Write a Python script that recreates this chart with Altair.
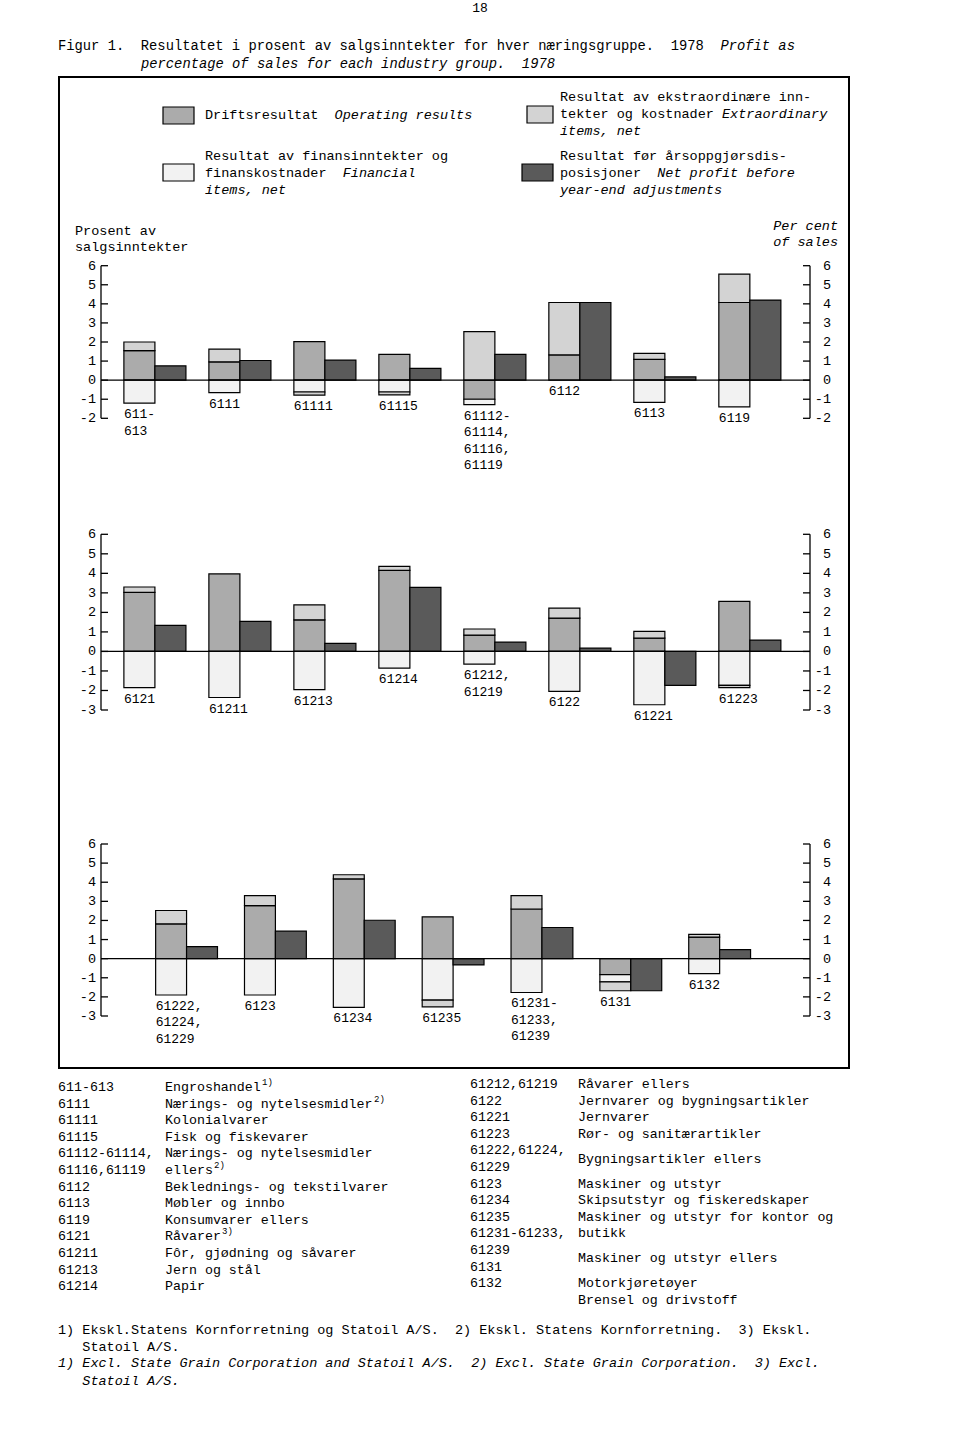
import altair as alt
import pandas as pd

FONT = "Liberation Mono"

# ---------------- data ----------------
SEGS = ["oper", "fin", "extra", "net"]
FILLS = ["#ababab", "#f2f2f2", "#d3d3d3", "#5a5a5a"]

P1_GROUPS = ["611-613", "6111", "61111", "61115", "61112-61114,61116,61119", "6112", "6113", "6119"]
P1_LABELS = ["611-\n613", "6111", "61111", "61115", "61112-\n61114,\n61116,\n61119", "6112", "6113", "6119"]
P1_OPER = [1.55, 0.96, 2.02, 1.35, -1.00, 1.32, 1.09, 4.07]
P1_FIN = [-1.20, -0.65, -0.62, -0.62, -0.28, 0.00, -1.17, -1.40]
P1_EXTRA = [0.45, 0.67, -0.17, -0.15, 2.54, 2.75, 0.31, 1.49]
P1_NET = [0.75, 1.03, 1.05, 0.62, 1.35, 4.07, 0.17, 4.20]

P2_GROUPS = ["6121", "61211", "61213", "61214", "61212,61219", "6122", "61221", "61223"]
P2_LABELS = ["6121", "61211", "61213", "61214", "61212,\n61219", "6122", "61221", "61223"]
P2_OPER = [3.03, 3.97, 1.62, 4.15, 0.84, 1.71, 0.68, 2.56]
P2_FIN = [-1.85, -2.36, -1.96, -0.85, -0.65, -2.05, -2.73, -1.74]
P2_EXTRA = [0.27, 0.00, 0.77, 0.21, 0.31, 0.51, 0.35, -0.11]
P2_NET = [1.33, 1.54, 0.41, 3.28, 0.48, 0.17, -1.74, 0.58]

P3_GROUPS = ["61222,61224,61229", "6123", "61234", "61235", "61231-61233,61239", "6131", "6132"]
P3_LABELS = ["61222,\n61224,\n61229", "6123", "61234", "61235", "61231-\n61233,\n61239", "6131", "6132"]
P3_OPER = [1.82, 2.78, 4.17, 2.19, 2.60, -0.83, 1.13]
P3_FIN = [-1.90, -1.90, -2.55, -2.17, -1.77, -0.38, -0.78]
P3_EXTRA = [0.70, 0.52, 0.22, -0.35, 0.70, -0.47, 0.14]
P3_NET = [0.63, 1.44, 2.01, -0.33, 1.63, -1.68, 0.47]

TICKS_A = [6, 5, 4, 3, 2, 1, 0, -1, -2]
TICKS_B = [6, 5, 4, 3, 2, 1, 0, -1, -2, -3]

PAGE_NO = "18"
CAPTION_1 = "Figur 1.  Resultatet i prosent av salgsinntekter for hver næringsgruppe.  1978  "
CAPTION_1_EN = "Profit as"
CAPTION_2_EN = "percentage of sales for each industry group.  1978"

LEG_OPER = ("Driftsresultat  ", "Operating results")
LEG_FIN = ["Resultat av finansinntekter og", "finanskostnader  ", "Financial", "items, net"]
LEG_EXTRA = ["Resultat av ekstraordinære inn-", "tekter og kostnader ", "Extraordinary", "items, net"]
LEG_NET = ["Resultat før årsoppgjørsdis-", "posisjoner  ", "Net profit before", "year-end adjustments"]

YTITLE_NO = "Prosent av\nsalgsinntekter"
YTITLE_EN = "Per cent\nof sales"

FOOT_L_CODES = ["611-613", "6111", "61111", "61115", "61112-61114,", "61116,61119", "6112", "6113",
                "6119", "6121", "61211", "61213", "61214"]
FOOT_L_DESC = ["Engroshandel", "Nærings- og nytelsesmidler", "Kolonialvarer", "Fisk og fiskevarer",
               "Nærings- og nytelsesmidler", "ellers", "Beklednings- og tekstilvarer", "Møbler og innbo",
               "Konsumvarer ellers", "Råvarer", "Fôr, gjødning og såvarer", "Jern og stål", "Papir"]
FOOT_L_SUP = {0: "1)", 1: "2)", 5: "2)", 9: "3)"}
FOOT_R_CODES = ["61212,61219", "6122", "61221", "61223", "61222,61224,", "61229", "6123", "61234",
                "61235", " ", "61231-61233,", "61239", "6131", "6132"]
FOOT_R_DESC_A = ["Råvarer ellers", "Jernvarer og bygningsartikler", "Jernvarer", "Rør- og sanitærartikler"]
FOOT_R_DESC_B = "Bygningsartikler ellers"
FOOT_R_DESC_C = ["Maskiner og utstyr", "Skipsutstyr og fiskeredskaper", "Maskiner og utstyr for kontor og", "butikk"]
FOOT_R_DESC_D = "Maskiner og utstyr ellers"
FOOT_R_DESC_E = ["Motorkjøretøyer", "Brensel og drivstoff"]

NOTE_NO_1 = "1) Ekskl.Statens Kornforretning og Statoil A/S.  2) Ekskl. Statens Kornforretning.  3) Ekskl."
NOTE_NO_2 = "Statoil A/S."
NOTE_EN_1 = "1) Excl. State Grain Corporation and Statoil A/S.  2) Excl. State Grain Corporation.  3) Excl."
NOTE_EN_2 = "Statoil A/S."

# ---------------- helpers ----------------
ONE = pd.DataFrame({"k": [0]})
NB = "\u00a0"


def txt(s, x, y, size=13.5, italic=False, align="left", baseline="middle", lh=16.5):
    kw = dict(font=FONT, fontSize=size, align=align, baseline=baseline, color="black")
    if italic:
        kw["fontStyle"] = "italic"
    if "\n" in s:
        kw["lineBreak"] = "\n"
        kw["lineHeight"] = lh
    s = s.replace(" ", NB)
    return alt.Chart(pd.DataFrame({"t": [s]})).mark_text(**kw).encode(
        text="t:N", x=alt.value(x), y=alt.value(y))


def box(x, x2, y, y2, fill, sw=1.2):
    return alt.Chart(ONE).mark_rect(fill=fill, stroke="black", strokeWidth=sw).encode(
        x=alt.value(x), x2=alt.value(x2), y=alt.value(y), y2=alt.value(y2))


def panel(groups, labels, oper, fin, extra, net, ticks, yrange, xpad):
    rows, lab = [], []
    for g, l, o, f, e, n in zip(groups, labels, oper, fin, extra, net):
        pos = neg = 0.0
        for seg, v in (("oper", o), ("fin", f), ("extra", e)):
            if v == 0:
                continue
            if v > 0:
                rows.append(dict(g=g, sub="stack", seg=seg, y0=pos, y1=pos + v))
                pos += v
            else:
                rows.append(dict(g=g, sub="stack", seg=seg, y0=neg, y1=neg + v))
                neg += v
        rows.append(dict(g=g, sub="net", seg="net", y0=0.0, y1=n))
        lab.append(dict(g=g, label=l, bottom=min(0.0, neg, n)))
    df = pd.DataFrame(rows)
    ldf = pd.DataFrame(lab)
    ymin, ymax = min(ticks), max(ticks)
    pi, po, al = xpad
    xs = alt.Scale(domain=groups, range=[101, 810], paddingInner=pi, paddingOuter=po, align=al)
    ys = alt.Scale(domain=[ymin, ymax], range=yrange, nice=False, zero=False)

    bars = alt.Chart(df).mark_bar(stroke="black", strokeWidth=1.2).encode(
        x=alt.X("g:N", scale=xs, axis=None, sort=groups),
        xOffset=alt.XOffset("sub:N", scale=alt.Scale(domain=["stack", "net"], paddingInner=0, paddingOuter=0),
                            sort=["stack", "net"]),
        y=alt.Y("y1:Q", scale=ys, axis=None),
        y2="y0:Q",
        color=alt.Color("seg:N", scale=alt.Scale(domain=SEGS, range=FILLS), legend=None),
    )
    tdf = pd.DataFrame({"v": ticks, "lab": [str(t) for t in ticks]})
    zero = alt.Chart(pd.DataFrame({"v": [0]})).mark_rule(color="black", strokeWidth=1.2).encode(
        x=alt.value(101), x2=alt.value(810), y=alt.Y("v:Q", scale=ys, axis=None))
    ext = pd.DataFrame({"a": [ymin], "b": [ymax]})
    laxis = alt.Chart(ext).mark_rule(color="black", strokeWidth=1.3).encode(
        x=alt.value(101), y=alt.Y("a:Q", scale=ys, axis=None), y2="b:Q")
    raxis = alt.Chart(ext).mark_rule(color="black", strokeWidth=1.3).encode(
        x=alt.value(810), y=alt.Y("a:Q", scale=ys, axis=None), y2="b:Q")
    lticks = alt.Chart(tdf).mark_rule(color="black", strokeWidth=1.3).encode(
        x=alt.value(101), x2=alt.value(108), y=alt.Y("v:Q", scale=ys, axis=None))
    rticks = alt.Chart(tdf).mark_rule(color="black", strokeWidth=1.3).encode(
        x=alt.value(803), x2=alt.value(810), y=alt.Y("v:Q", scale=ys, axis=None))
    llabels = alt.Chart(tdf).mark_text(font=FONT, fontSize=13.5, align="right", baseline="middle").encode(
        x=alt.value(96), y=alt.Y("v:Q", scale=ys, axis=None), text="lab:N")
    rlabels = alt.Chart(tdf).mark_text(font=FONT, fontSize=13.5, align="right", baseline="middle").encode(
        x=alt.value(831), y=alt.Y("v:Q", scale=ys, axis=None), text="lab:N")
    cats = alt.Chart(ldf).mark_text(font=FONT, fontSize=13, align="left", baseline="top", dy=5,
                                     lineBreak="\n", lineHeight=16.5).encode(
        x=alt.X("g:N", scale=xs, axis=None, sort=groups, bandPosition=0),
        y=alt.Y("bottom:Q", scale=ys, axis=None),
        text="label:N")
    return alt.layer(bars, zero, laxis, raxis, lticks, rticks, llabels, rlabels, cats)


PAD_8 = (0.27, 0.306, 0.44)
PAD_7 = (0.304, 0.642, 0.479)

p1 = panel(P1_GROUPS, P1_LABELS, P1_OPER, P1_FIN, P1_EXTRA, P1_NET, TICKS_A, [418.3, 265.7], PAD_8)
p2 = panel(P2_GROUPS, P2_LABELS, P2_OPER, P2_FIN, P2_EXTRA, P2_NET, TICKS_B, [710.0, 534.3], PAD_8)
p3 = panel(P3_GROUPS, P3_LABELS, P3_OPER, P3_FIN, P3_EXTRA, P3_NET, TICKS_B, [1016.0, 844.0], PAD_7)

CW = 8.1  # character advance at 13.5px
layers = []
# frame
layers.append(alt.Chart(ONE).mark_rect(filled=False, stroke="black", strokeWidth=2).encode(
    x=alt.value(59), x2=alt.value(849), y=alt.value(77), y2=alt.value(1068)))
# header
layers.append(txt(PAGE_NO, 480, 8, size=13, align="center"))
layers.append(txt(CAPTION_1, 58, 46, size=13.8))
layers.append(txt(CAPTION_1_EN, 58 + len(CAPTION_1) * 8.28, 46, size=13.8, italic=True))
layers.append(txt(CAPTION_2_EN, 141, 64, size=13.8, italic=True))
# legend
layers.append(box(163, 194, 107, 124, FILLS[0]))
layers.append(txt(LEG_OPER[0], 205, 115))
layers.append(txt(LEG_OPER[1], 205 + len(LEG_OPER[0]) * CW, 115, italic=True))
layers.append(box(163, 194, 164, 181, FILLS[1]))
layers.append(txt(LEG_FIN[0], 205, 156))
layers.append(txt(LEG_FIN[1], 205, 173))
layers.append(txt(LEG_FIN[2], 205 + len(LEG_FIN[1]) * CW, 173, italic=True))
layers.append(txt(LEG_FIN[3], 205, 190, italic=True))
layers.append(box(527, 553, 106, 123, FILLS[2]))
layers.append(txt(LEG_EXTRA[0], 560, 97))
layers.append(txt(LEG_EXTRA[1], 560, 114))
layers.append(txt(LEG_EXTRA[2], 560 + len(LEG_EXTRA[1]) * CW, 114, italic=True))
layers.append(txt(LEG_EXTRA[3], 560, 131, italic=True))
layers.append(box(522, 553, 164, 181, FILLS[3]))
layers.append(txt(LEG_NET[0], 560, 156))
layers.append(txt(LEG_NET[1], 560, 173))
layers.append(txt(LEG_NET[2], 560 + len(LEG_NET[1]) * CW, 173, italic=True))
layers.append(txt(LEG_NET[3], 560, 190, italic=True))
# axis titles
layers.append(txt(YTITLE_NO, 75, 224, baseline="top", lh=16))
layers.append(txt(YTITLE_EN, 838, 219, italic=True, align="right", baseline="top", lh=16))
# footer table
FL = 16.6
FS = 13.3
layers.append(txt("\n".join(FOOT_L_CODES), 58, 1080, size=FS, baseline="top", lh=FL))
layers.append(txt("\n".join(FOOT_L_DESC), 165, 1080, size=FS, baseline="top", lh=FL))
for i, s in FOOT_L_SUP.items():
    layers.append(txt(s, 165 + len(FOOT_L_DESC[i]) * 8.0 + 1, 1086 + i * FL - 4, size=9))
FR0 = 1077
RX_CODE, RX_DESC = 470, 578
layers.append(txt("\n".join(FOOT_R_CODES), RX_CODE, FR0, size=FS, baseline="top", lh=FL))
layers.append(txt("\n".join(FOOT_R_DESC_A), RX_DESC, FR0, size=FS, baseline="top", lh=FL))
layers.append(txt(FOOT_R_DESC_B, RX_DESC, FR0 + 4.5 * FL, size=FS, baseline="top"))
layers.append(txt("\n".join(FOOT_R_DESC_C), RX_DESC, FR0 + 6 * FL, size=FS, baseline="top", lh=FL))
layers.append(txt(FOOT_R_DESC_D, RX_DESC, FR0 + 10.5 * FL, size=FS, baseline="top"))
layers.append(txt("\n".join(FOOT_R_DESC_E), RX_DESC, FR0 + 12 * FL, size=FS, baseline="top", lh=FL))
# notes
layers.append(txt(NOTE_NO_1, 58, 1330))
layers.append(txt(NOTE_NO_2, 58 + 3 * CW, 1347))
layers.append(txt(NOTE_EN_1, 58, 1363, italic=True))
layers.append(txt(NOTE_EN_2, 58 + 3 * CW, 1381, italic=True))

layers += [p1, p2, p3]

chart = alt.layer(*layers).resolve_scale(
    x="independent", y="independent", color="independent", xOffset="independent"
).properties(
    width=960, height=1438, padding=0, autosize="none", background="white"
).configure_view(strokeWidth=0)

chart.save("out.html", embed_options={"renderer": "svg", "actions": False})
